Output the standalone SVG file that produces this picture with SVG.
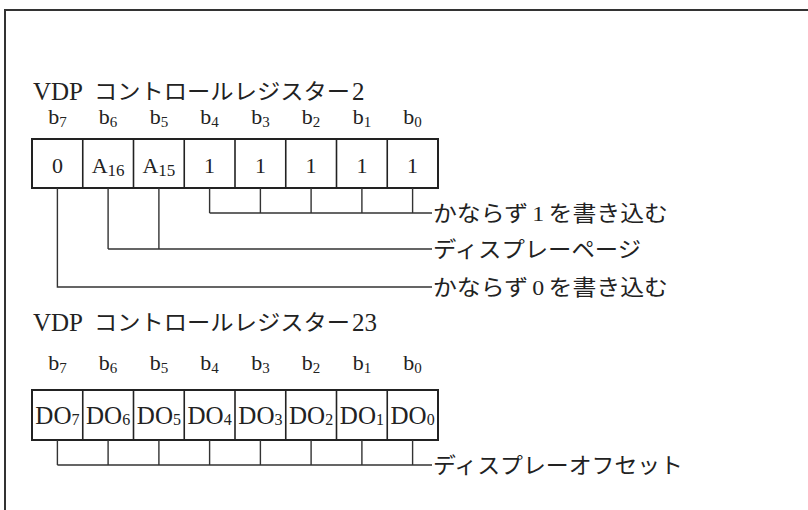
<svg xmlns="http://www.w3.org/2000/svg" width="808" height="510" viewBox="0 0 808 510">
<style>
.frame{fill:none;stroke:#333;stroke-width:2}
.box{fill:#fff;stroke:#222;stroke-width:2}
.div{fill:none;stroke:#222;stroke-width:1.6}
.conn{fill:none;stroke:#333;stroke-width:1.4}
.lat{font-family:"Liberation Serif","Times New Roman",serif;fill:#222}
.jp{font-family:"Noto Sans CJK JP","Noto Sans",sans-serif;fill:#222}
.bit{font-size:22px;text-anchor:middle}
.sub{font-size:15px}
.val{font-size:22px;text-anchor:middle}
.do{font-size:25px;text-anchor:middle}
.lbl{font-size:22px}
</style>
<rect width="808" height="510" fill="#fff"/>
<g id="frame">
<path class="frame" d="M5,510 V10 H808"/>
</g>
<g id="title-reg2">
<text class="lat" x="33" y="100" font-size="26" textLength="50" lengthAdjust="spacingAndGlyphs">VDP</text>
<text class="jp" x="94" y="99" font-size="22" textLength="256" lengthAdjust="spacingAndGlyphs">コントロールレジスター</text>
<text class="lat" x="352" y="100" font-size="25">2</text>
</g>
<g id="register2">
<text class="lat bit" x="57.4" y="124">b<tspan class="sub" dy="3">7</tspan></text>
<text class="lat bit" x="108.1" y="124">b<tspan class="sub" dy="3">6</tspan></text>
<text class="lat bit" x="158.9" y="124">b<tspan class="sub" dy="3">5</tspan></text>
<text class="lat bit" x="209.6" y="124">b<tspan class="sub" dy="3">4</tspan></text>
<text class="lat bit" x="260.4" y="124">b<tspan class="sub" dy="3">3</tspan></text>
<text class="lat bit" x="311.1" y="124">b<tspan class="sub" dy="3">2</tspan></text>
<text class="lat bit" x="361.9" y="124">b<tspan class="sub" dy="3">1</tspan></text>
<text class="lat bit" x="412.6" y="124">b<tspan class="sub" dy="3">0</tspan></text>
<rect class="box" x="32" y="139" width="406" height="49"/>
<path class="div" d="M82.75,139V188M133.5,139V188M184.25,139V188M235,139V188M285.75,139V188M336.5,139V188M387.25,139V188"/>
<text class="lat val" x="57.4" y="173">0</text>
<text class="lat val" x="108.1" y="173">A<tspan font-size="17" dy="3">16</tspan></text>
<text class="lat val" x="158.9" y="173">A<tspan font-size="17" dy="3">15</tspan></text>
<text class="lat val" x="209.6" y="173">1</text>
<text class="lat val" x="260.4" y="173">1</text>
<text class="lat val" x="311.1" y="173">1</text>
<text class="lat val" x="361.9" y="173">1</text>
<text class="lat val" x="412.6" y="173">1</text>
</g>
<g id="label-write1">
<text class="jp lbl" x="433" y="221" textLength="235" lengthAdjust="spacingAndGlyphs">かならず<tspan class="lat" dx="4">1</tspan><tspan dx="4">を書き込む</tspan></text>
</g>
<g id="label-page">
<text class="jp lbl" x="433" y="257" textLength="208" lengthAdjust="spacingAndGlyphs">ディスプレーページ</text>
</g>
<g id="label-write0">
<text class="jp lbl" x="433" y="295" textLength="235" lengthAdjust="spacingAndGlyphs">かならず<tspan class="lat" dx="4">0</tspan><tspan dx="4">を書き込む</tspan></text>
</g>
<g id="title-reg23">
<text class="lat" x="33" y="331" font-size="26" textLength="50" lengthAdjust="spacingAndGlyphs">VDP</text>
<text class="jp" x="94" y="330" font-size="22" textLength="256" lengthAdjust="spacingAndGlyphs">コントロールレジスター</text>
<text class="lat" x="352" y="331" font-size="25">23</text>
</g>
<g id="register23">
<text class="lat bit" x="57.4" y="370">b<tspan class="sub" dy="3">7</tspan></text>
<text class="lat bit" x="108.1" y="370">b<tspan class="sub" dy="3">6</tspan></text>
<text class="lat bit" x="158.9" y="370">b<tspan class="sub" dy="3">5</tspan></text>
<text class="lat bit" x="209.6" y="370">b<tspan class="sub" dy="3">4</tspan></text>
<text class="lat bit" x="260.4" y="370">b<tspan class="sub" dy="3">3</tspan></text>
<text class="lat bit" x="311.1" y="370">b<tspan class="sub" dy="3">2</tspan></text>
<text class="lat bit" x="361.9" y="370">b<tspan class="sub" dy="3">1</tspan></text>
<text class="lat bit" x="412.6" y="370">b<tspan class="sub" dy="3">0</tspan></text>
<rect class="box" x="32" y="390" width="406" height="50"/>
<path class="div" d="M82.75,390V440M133.5,390V440M184.25,390V440M235,390V440M285.75,390V440M336.5,390V440M387.25,390V440"/>
<text class="lat do" x="57.4" y="424">DO<tspan font-size="16" dy="1">7</tspan></text>
<text class="lat do" x="108.1" y="424">DO<tspan font-size="16" dy="1">6</tspan></text>
<text class="lat do" x="158.9" y="424">DO<tspan font-size="16" dy="1">5</tspan></text>
<text class="lat do" x="209.6" y="424">DO<tspan font-size="16" dy="1">4</tspan></text>
<text class="lat do" x="260.4" y="424">DO<tspan font-size="16" dy="1">3</tspan></text>
<text class="lat do" x="311.1" y="424">DO<tspan font-size="16" dy="1">2</tspan></text>
<text class="lat do" x="361.9" y="424">DO<tspan font-size="16" dy="1">1</tspan></text>
<text class="lat do" x="412.6" y="424">DO<tspan font-size="16" dy="1">0</tspan></text>
</g>
<g id="label-offset">
<text class="jp lbl" x="433" y="473" textLength="250" lengthAdjust="spacingAndGlyphs">ディスプレーオフセット</text>
</g>
<g id="connectors">
<path class="conn" d="M209.6,188V213M260.4,188V213M311.1,188V213M361.9,188V213M412.6,188V213M209.6,213H432"/>
<path class="conn" d="M108.1,188V249M158.9,188V249M108.1,249H432"/>
<path class="conn" d="M57.4,188V287H432"/>
<path class="conn" d="M57.4,440V465M108.1,440V465M158.9,440V465M209.6,440V465M260.4,440V465M311.1,440V465M361.9,440V465M412.6,440V465M57.4,465H432"/>
</g>
</svg>
